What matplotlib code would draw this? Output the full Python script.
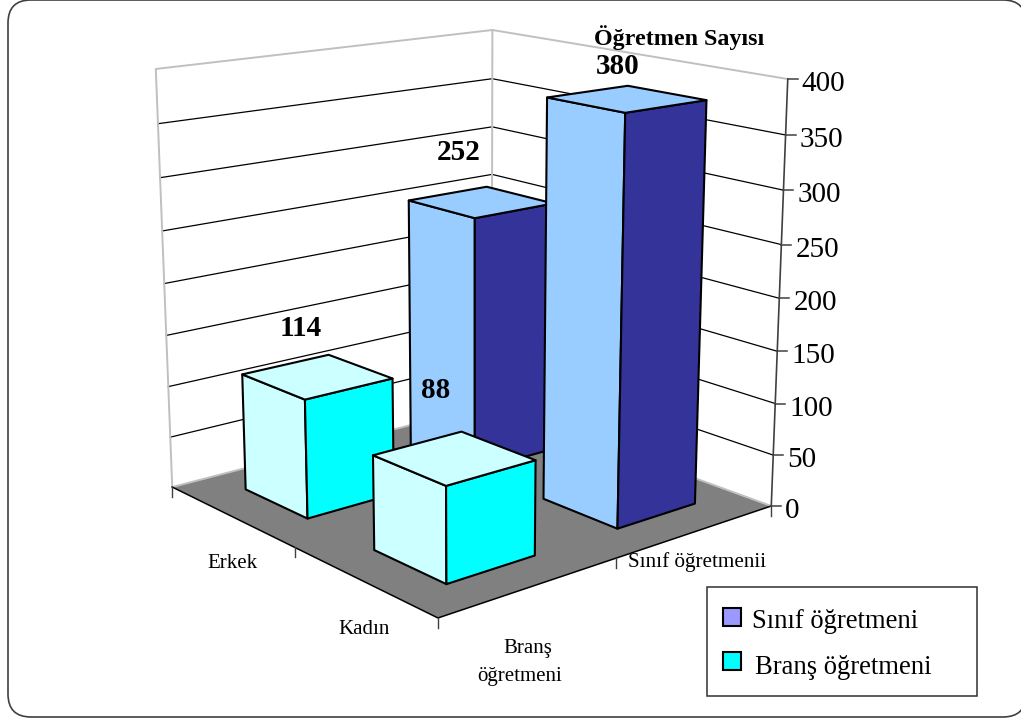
import numpy as np
import matplotlib
matplotlib.use("Agg")
import matplotlib.pyplot as plt
from matplotlib.patches import FancyBboxPatch, Polygon, Rectangle

plt.rcParams['font.family'] = ['Liberation Serif', 'DejaVu Serif']

# Data
categories = ['Erkek', 'Kadın']
series_names = ['Sınıf öğretmeni', 'Branş öğretmeni']
sinif_values = [252, 380]
brans_values = [114, 88]
z_ticks = [0, 50, 100, 150, 200, 250, 300, 350, 400]

W, H = 1021, 719
Z_MAX = 400
half_u, half_v = 0.25, 0.25

# Camera calibration: box corners (u, v, z) -> picture pixels
box_3d = [(0, 0, 0), (2, 0, 0), (2, 2, 0), (0, 2, 0), (0, 0, 1), (0, 2, 1), (2, 2, 1)]
box_px = [(172, 487), (438, 618), (771, 506), (492, 404), (156, 69), (492, 30), (788, 79)]

rows = []
for (a, b, c), (x, y) in zip(box_3d, box_px):
    rows.append([a, b, c, 1, 0, 0, 0, 0, -x*a, -x*b, -x*c, -x])
    rows.append([0, 0, 0, 0, a, b, c, 1, -y*a, -y*b, -y*c, -y])
P = np.linalg.svd(np.array(rows, dtype=float))[2][-1].reshape(3, 4)


def proj(u, v, z=0):
    p = P @ np.array([u, v, z / Z_MAX, 1.0])
    return p[0] / p[2], p[1] / p[2]


fig = plt.figure(figsize=(W / 100, H / 100), dpi=100)
ax = fig.add_axes([0, 0, 1, 1])
ax.set_xlim(0, W)
ax.set_ylim(H, 0)
ax.axis('off')

# rounded frame
ax.add_patch(FancyBboxPatch((8, 0), 1018, 717, boxstyle='round,pad=0,rounding_size=23',
                            fc='white', ec='#404040', lw=1.2, zorder=0))

# floor
ax.add_patch(Polygon([proj(0, 0), proj(2, 0), proj(2, 2), proj(0, 2)], fc='#808080', ec='none', zorder=1))

# walls
for z in z_ticks[1:-1]:
    pts = [proj(0, 0, z), proj(0, 2, z), proj(2, 2, z)]
    ax.plot(*zip(*pts), color='black', lw=0.9, zorder=2)
wall = [proj(0, 0), proj(0, 0, 400), proj(0, 2, 400), proj(2, 2, 400)]
ax.plot(*zip(*wall), color='#c0c0c0', lw=1.4, zorder=2)
ax.plot(*zip(proj(0, 2), proj(0, 2, 400)), color='#c0c0c0', lw=1.4, zorder=2)
ax.plot(*zip(proj(0, 0), proj(0, 2), proj(2, 2)), color='#c0c0c0', lw=1.4, zorder=2)

# floor front edges, vertical axis
ax.plot(*zip(proj(0, 0), proj(2, 0), proj(2, 2)), color='black', lw=1.1, zorder=2)
ax.plot(*zip(proj(2, 2), proj(2, 2, 400)), color='#404040', lw=1.2, zorder=2)

# ticks
for z in z_ticks:
    x, y = proj(2, 2, z)
    ax.plot([x, x + 10], [y, y], color='#404040', lw=1.1, zorder=2)
    ax.text(x + 14, y + 5, str(z), fontsize=21, ha='left', va='center', color='black')
for u in [0, 1, 2]:
    x, y = proj(u, 0)
    ax.plot([x, x], [y, y + 10], color='#404040', lw=1, zorder=2)
for v in [1, 2]:
    x, y = proj(2, v)
    ax.plot([x, x], [y, y + 10], color='#404040', lw=1, zorder=2)


def draw_bar(u, v, value, light, dark):
    u0, u1 = u - half_u, u + half_u
    v0, v1 = v - half_v, v + half_v
    left = [proj(u0, v0), proj(u1, v0), proj(u1, v0, value), proj(u0, v0, value)]
    right = [proj(u1, v0), proj(u1, v1), proj(u1, v1, value), proj(u1, v0, value)]
    top = [proj(u0, v0, value), proj(u1, v0, value), proj(u1, v1, value), proj(u0, v1, value)]
    for face, color in [(left, light), (right, dark), (top, light)]:
        ax.add_patch(Polygon(face, fc=color, ec='black', lw=1.5, joinstyle='round', zorder=3))


# back row first so the front row hides it
draw_bar(0.5, 1.5, sinif_values[0], '#99CCFF', '#333399')
draw_bar(1.5, 1.5, sinif_values[1], '#99CCFF', '#333399')
draw_bar(0.5, 0.5, brans_values[0], '#CCFFFF', '#00FFFF')
draw_bar(1.5, 0.5, brans_values[1], '#CCFFFF', '#00FFFF')

# value labels
bold = dict(fontsize=21, fontweight='bold', ha='center', va='center', zorder=4)
ax.text(459, 153, str(sinif_values[0]), **bold)
ax.text(618, 66, str(sinif_values[1]), **bold)
ax.text(301, 328, str(brans_values[0]), **bold)
ax.text(436, 390, str(brans_values[1]), **bold)
ax.text(679, 38, 'Öğretmen Sayısı', fontsize=17.3, fontweight='bold', ha='center', va='center', zorder=4)

# category labels
ax.text(232, 564, categories[0], fontsize=15, ha='center', va='center')
ax.text(364, 630, categories[1], fontsize=15, ha='center', va='center')
ax.text(528, 649, 'Branş', fontsize=15, ha='center', va='center')
ax.text(520, 677, 'öğretmeni', fontsize=15, ha='center', va='center')
ax.text(628, 562, 'Sınıf öğretmenii', fontsize=15.2, ha='left', va='center')

# legend
ax.add_patch(Rectangle((707, 587), 270, 109, fc='white', ec='#303030', lw=1.1, zorder=5))
ax.add_patch(Rectangle((723, 608), 18, 18, fc='#9999FF', ec='black', lw=1.5, zorder=6))
ax.add_patch(Rectangle((723, 652), 18, 18, fc='#00FFFF', ec='black', lw=1.5, zorder=6))
ax.text(752, 621, series_names[0], fontsize=19.2, ha='left', va='center', zorder=6)
ax.text(755, 667, series_names[1], fontsize=19.2, ha='left', va='center', zorder=6)

fig.savefig('out.png', dpi=100)
